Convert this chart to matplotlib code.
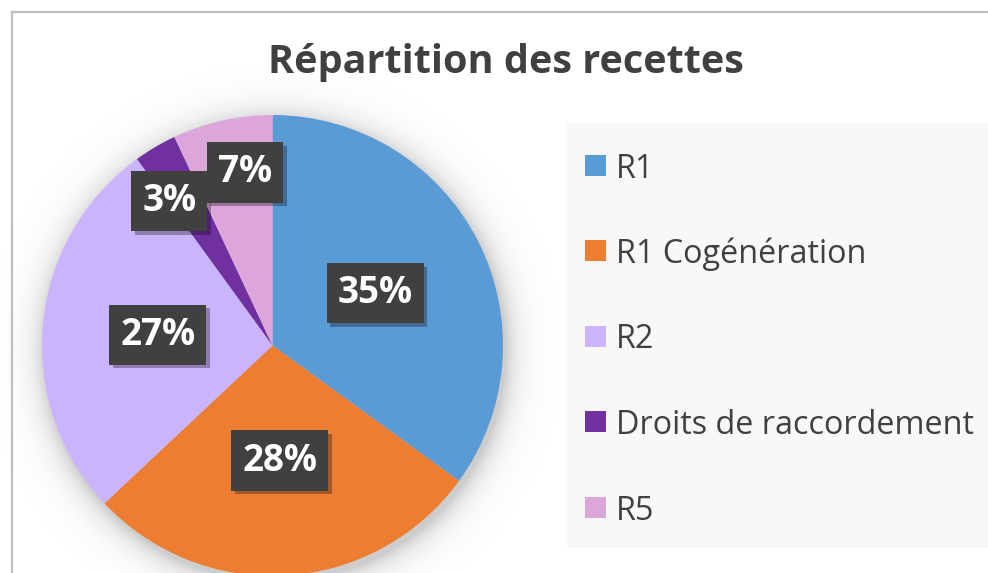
import numpy as np
import matplotlib
matplotlib.use("Agg")
import matplotlib.pyplot as plt
from matplotlib.patches import Rectangle
from matplotlib.lines import Line2D
import matplotlib.patheffects as pe

categories = ["R1", "R1 Cogénération", "R2", "Droits de raccordement", "R5"]
values = [35, 28, 27, 3, 7]
colors = ["#5B9BD5", "#ED7D31", "#CBB4FE", "#7030A0", "#DDA6DB"]
title = "Répartition des recettes"

# label placement styles (radius fraction, angular shift in degrees)
label_radius = [0.5, 0.5, 0.5, 0.77, 0.76]
label_shift = [0, 0, 0, 5, -3.6]

W, H = 988, 573
fig = plt.figure(figsize=(W / 100, H / 100), dpi=100)
fig.patch.set_facecolor("white")

# frame
fig.add_artist(Line2D([11.5 / W, 11.5 / W], [0, 1 - 11.5 / H], color="#BFBFBF", lw=1.6, transform=fig.transFigure))
fig.add_artist(Line2D([11.5 / W, 1.0], [1 - 11.5 / H, 1 - 11.5 / H], color="#BFBFBF", lw=1.6, transform=fig.transFigure))

# legend background
fig.add_artist(Rectangle((567 / W, 1 - 548 / H), (W - 567) / W + 0.01, (548 - 123) / H,
                         transform=fig.transFigure, facecolor="#F8F8F8", edgecolor="none", zorder=0))

# pie axes
cx, cy, R = 272.5, 345.5, 230.5
half = 1.3
side = 2 * half * R
ax = fig.add_axes([(cx - side / 2) / W, (H - cy - side / 2) / H, side / W, side / H])

wedges, _ = ax.pie(values, colors=colors, startangle=90, counterclock=False,
                   radius=1.0, wedgeprops=dict(linewidth=0), normalize=True)
for w in wedges:
    w.set_zorder(2)

ax.set_xlim(-half, half)
ax.set_ylim(-half, half)
ax.set_aspect("equal")
ax.axis("off")
ax.patch.set_alpha(0)

# soft shadow
n = 600
xs = np.linspace(-half, half, n)
X, Y = np.meshgrid(xs, xs)
Rr = np.hypot(X - 0.01, Y + 0.025)
alpha = np.where(Rr < 1.0, 0.35, 0.35 * np.exp(-((Rr - 1.0) / 0.055)))
img = np.zeros((n, n, 4))
img[..., :3] = 0.45
img[..., 3] = alpha
ax.imshow(img, extent=(-half, half, -half, half), origin="lower", zorder=0, interpolation="bilinear")
ax.set_xlim(-half, half)
ax.set_ylim(-half, half)

total = sum(values)
for i, (w, v) in enumerate(zip(wedges, values)):
    mid = (w.theta1 + w.theta2) / 2 + label_shift[i]
    r = label_radius[i]
    x, y = r * np.cos(np.radians(mid)), r * np.sin(np.radians(mid))
    t = ax.text(x, y, f"{round(100 * v / total)}%", ha="center", va="center",
                fontsize=26.5, fontweight="bold", color="white", family="Open Sans", zorder=5,
                bbox=dict(boxstyle="square,pad=0.3", facecolor="#404040", edgecolor="none"))
    t.get_bbox_patch().set_path_effects([pe.SimplePatchShadow(offset=(2.5, -2.5), shadow_rgbFace="#000000", alpha=0.3),
                                         pe.Normal()])

# title
fig.text(506 / W, 1 - 62 / H, title, ha="center", va="center", fontsize=28.5,
         fontweight="bold", color="#404040", family="Open Sans")

# legend
row0, step = 165, 85.5
for i, (lab, col) in enumerate(zip(categories, colors)):
    yc = row0 + i * step
    fig.add_artist(Rectangle((585 / W, 1 - (yc + 10.5) / H), 21 / W, 21 / H,
                             transform=fig.transFigure, facecolor=col, edgecolor="none"))
    fig.text(616 / W, 1 - yc / H, lab, ha="left", va="center_baseline", fontsize=23.3,
             color="#404040", family="Open Sans")

fig.savefig("out.png", dpi=100)
